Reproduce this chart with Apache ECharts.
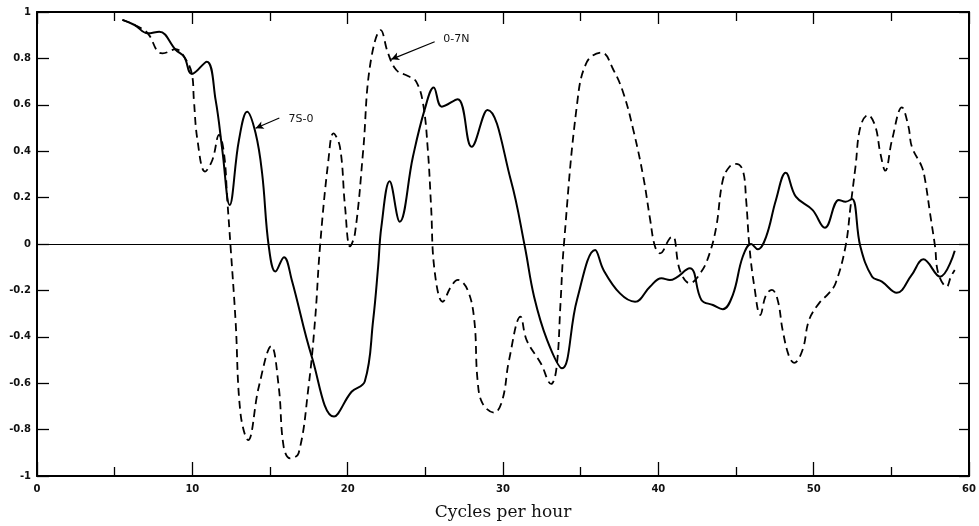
<!DOCTYPE html>
<html>
<head>
<meta charset="utf-8">
<script src="https://cdn.jsdelivr.net/npm/echarts@6/dist/echarts.min.js"></script>
<style>
html,body{margin:0;padding:0;background:#fff;}
#chart{width:979px;height:526px;}
</style>
</head>
<body>
<div id="chart"></div>
<script>
// 7S-0 (solid)
var s7x = [5.5,6.28,7.13,7.87,8.94,9.47,9.97,10.93,11.5,11.93,12.4,13.0,13.53,14.07,14.49,14.92,15.35,15.9,16.4,17.69,19.12,20.25,21.1,21.64,21.96,22.17,22.7,23.35,24.2,24.95,25.54,26.06,27.08,27.98,29.0,30.5,31.4,32.0,32.84,33.8,34.76,35.93,36.47,37.53,38.5,39.46,40.2,40.74,42.02,42.77,43.51,44.15,44.79,45.43,45.97,46.4,46.93,47.57,48.2,48.85,49.92,50.72,51.62,52.05,52.47,53.0,53.76,54.39,55.35,56.3,57.06,58.13,59.08];
var s7y = [0.966,0.944,0.908,0.915,0.836,0.807,0.733,0.786,0.62,0.405,0.168,0.448,0.57,0.478,0.306,-0.01,-0.119,-0.057,-0.155,-0.486,-0.744,-0.637,-0.593,-0.328,-0.098,0.075,0.27,0.096,0.376,0.578,0.675,0.592,0.624,0.419,0.578,0.276,-0.01,-0.227,-0.414,-0.536,-0.241,-0.026,-0.112,-0.213,-0.249,-0.184,-0.148,-0.155,-0.105,-0.241,-0.263,-0.281,-0.22,-0.055,0.0,-0.023,0.03,0.19,0.307,0.204,0.147,0.07,0.19,0.182,0.194,-0.01,-0.141,-0.162,-0.21,-0.134,-0.066,-0.141,-0.029];
// 0-7N (dashed)
var n7x = [5.5,6.28,7.13,7.77,8.09,8.94,9.47,9.97,10.1,10.33,10.82,11.29,11.72,12.04,12.25,12.46,12.78,13.1,13.59,14.28,15.08,15.56,15.88,16.3,16.84,17.48,17.9,18.22,18.76,19.08,19.5,19.83,20.15,20.47,21.0,21.43,22.13,22.6,23.13,23.88,24.41,24.85,25.16,25.37,25.59,26.12,26.65,27.1,27.72,28.15,28.36,28.68,29.43,29.96,30.39,31.13,31.52,32.43,33.1,33.44,33.7,33.91,34.76,35.4,36.36,37.11,37.75,38.39,39.03,39.46,39.78,40.1,40.74,40.95,41.38,42.02,42.77,43.3,43.73,44.15,44.58,45.0,45.43,45.65,45.86,46.18,46.56,46.93,47.31,47.68,48.0,48.42,48.74,49.28,49.7,50.34,50.98,51.41,52.05,52.37,52.69,53.01,53.5,53.97,54.29,54.61,55.04,55.68,56.1,56.32,56.96,57.17,57.49,57.81,58.02,58.56,58.83,59.08];
var n7y = [0.966,0.944,0.908,0.829,0.822,0.84,0.807,0.733,0.62,0.448,0.312,0.362,0.47,0.39,0.19,-0.01,-0.328,-0.73,-0.845,-0.615,-0.44,-0.615,-0.874,-0.924,-0.902,-0.615,-0.328,-0.01,0.362,0.477,0.419,0.161,-0.01,0.046,0.405,0.764,0.922,0.822,0.75,0.724,0.7,0.606,0.405,0.161,-0.112,-0.249,-0.184,-0.155,-0.198,-0.328,-0.586,-0.687,-0.727,-0.672,-0.5,-0.313,-0.414,-0.514,-0.603,-0.536,-0.256,-0.01,0.6,0.785,0.825,0.75,0.65,0.491,0.29,0.11,-0.01,-0.04,0.025,0.031,-0.112,-0.169,-0.119,-0.04,0.075,0.276,0.333,0.345,0.319,0.19,-0.01,-0.184,-0.306,-0.22,-0.198,-0.241,-0.371,-0.486,-0.512,-0.457,-0.328,-0.256,-0.212,-0.169,-0.01,0.161,0.333,0.506,0.556,0.506,0.391,0.316,0.448,0.589,0.506,0.419,0.333,0.276,0.132,-0.01,-0.126,-0.184,-0.141,-0.112];
var seriesNames = ['7S-0','0-7N'];
var xLabelStep = 10;
var yLabelStep = 0.2;
// annotation anchors (data space)
var annot7S = {text:[17.0,0.54], from:[15.6,0.543], to:[14.07,0.499]};
var annot7N = {text:[27.0,0.884], from:[25.6,0.872], to:[22.8,0.796]};

function pairs(xs, ys){ return xs.map(function(x,i){ return [x, ys[i]]; }); }

var chart = echarts.init(document.getElementById('chart'));
function fmt(v){ if (Math.abs(v) < 1e-9) return '0'; return String(Math.round(v*10)/10); }
var axisLineStyle = {color:'#000', width:2};
var annFont = {show:true, position:'inside', color:'#111', fontFamily:'DejaVu Sans', fontSize:11};
chart.setOption({
  animation:false,
  backgroundColor:'#fff',
  grid:{left:37, right:5, top:12, bottom:50},
  xAxis:[{
    type:'value', min:0, max:60, interval:xLabelStep, position:'bottom',
    axisLine:{show:true, onZero:false, lineStyle:axisLineStyle},
    axisTick:{show:true, inside:true, length:14, lineStyle:{color:'#000', width:1.3}},
    minorTick:{show:true, splitNumber:2, length:9, lineStyle:{color:'#000', width:1.3}},
    axisLabel:{show:true, margin:8, fontFamily:'DejaVu Sans', fontSize:10, fontWeight:'bold', color:'#111'},
    splitLine:{show:false},
    name:'Cycles per hour', nameLocation:'middle', nameGap:28,
    nameTextStyle:{fontFamily:'DejaVu Serif', fontSize:17, color:'#111'}
  },{
    type:'value', min:0, max:60, interval:xLabelStep, position:'top',
    axisLine:{show:true, onZero:false, lineStyle:axisLineStyle},
    axisTick:{show:true, inside:true, length:12, lineStyle:{color:'#000', width:1.3}},
    minorTick:{show:true, splitNumber:2, length:9, lineStyle:{color:'#000', width:1.3}},
    axisLabel:{show:false}, splitLine:{show:false}
  }],
  yAxis:[{
    type:'value', min:-1, max:1, interval:yLabelStep, position:'left',
    axisLine:{show:true, onZero:false, lineStyle:axisLineStyle},
    axisTick:{show:true, inside:true, length:12, lineStyle:{color:'#000', width:1.3}},
    axisLabel:{show:true, margin:6, formatter:fmt, fontFamily:'DejaVu Sans', fontSize:10, fontWeight:'bold', color:'#111'},
    splitLine:{show:false}
  },{
    type:'value', min:-1, max:1, interval:yLabelStep, position:'right',
    axisLine:{show:true, onZero:false, lineStyle:axisLineStyle},
    axisTick:{show:true, inside:true, length:10, lineStyle:{color:'#000', width:1.3}},
    axisLabel:{show:false}, splitLine:{show:false}
  }],
  series:[{
    name:'zero', type:'line', data:[], silent:true,
    markLine:{
      silent:true, symbol:['none','none'],
      lineStyle:{color:'#000', width:1, type:'solid'},
      label:{show:false},
      data:[{yAxis:0}]
    }
  },{
    name:seriesNames[0], type:'line', data:pairs(s7x, s7y),
    smooth:0.4, showSymbol:false, symbol:'none',
    lineStyle:{color:'#000', width:2, type:'solid'},
    markLine:{
      silent:true, symbol:['none','arrow'], symbolSize:[6,8],
      lineStyle:{color:'#000', width:1.2, type:'solid'},
      label:{show:false},
      data:[[{coord:annot7S.from},{coord:annot7S.to}]]
    },
    markPoint:{
      symbol:'circle', symbolSize:0,
      label:Object.assign({formatter:function(){return seriesNames[0];}}, annFont),
      data:[{coord:annot7S.text}]
    }
  },{
    name:seriesNames[1], type:'line', data:pairs(n7x, n7y),
    smooth:0.4, showSymbol:false, symbol:'none',
    lineStyle:{color:'#000', width:1.8, type:[8,5]},
    markLine:{
      silent:true, symbol:['none','arrow'], symbolSize:[6,8],
      lineStyle:{color:'#000', width:1.2, type:'solid'},
      label:{show:false},
      data:[[{coord:annot7N.from},{coord:annot7N.to}]]
    },
    markPoint:{
      symbol:'circle', symbolSize:0,
      label:Object.assign({formatter:function(){return seriesNames[1];}}, annFont),
      data:[{coord:annot7N.text}]
    }
  }]
});
</script>
</body>
</html>
